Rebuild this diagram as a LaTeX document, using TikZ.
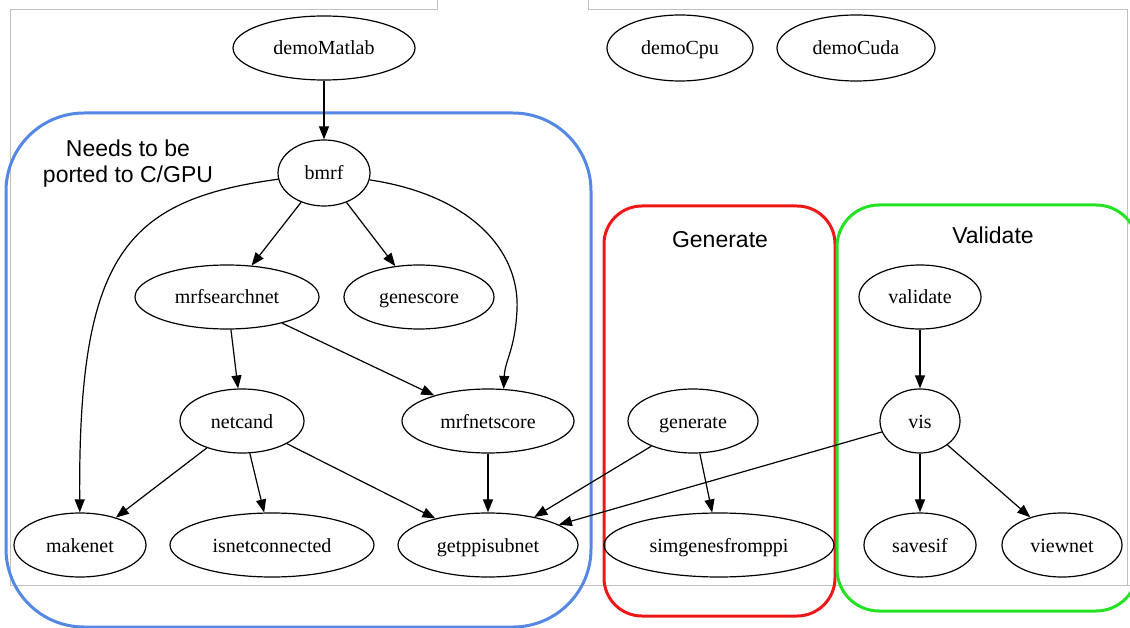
\documentclass[tikz,border=0pt]{standalone}
\usepackage{fontspec}
\setmainfont{Liberation Serif}
\newfontfamily\labelfont{Liberation Sans}
\usetikzlibrary{shapes.geometric,arrows.meta}

\definecolor{portblue}{RGB}{84,136,228}
\definecolor{genred}{RGB}{238,24,24}
\definecolor{valgreen}{RGB}{34,226,34}
\definecolor{panelgray}{RGB}{192,192,192}

\begin{document}
\begin{tikzpicture}[x=1pt,y=-1pt,
  fn/.style={ellipse, draw, line width=1.2pt, inner sep=0pt,
             text height=14pt, text depth=0pt,
             font=\fontsize{20}{22}\selectfont},
  call/.style={draw, line width=1.2pt, -{Triangle[length=13pt,width=10pt]}},
  cluster/.style={line width=3pt},
  clusterlabel/.style={font=\labelfont\fontsize{23}{26}\selectfont, align=center},
  panel/.style={draw=panelgray, line width=1pt}]

\useasboundingbox (0,0) rectangle (1130,628);

% window panel edges
\draw[panel] (437,0) -- (437,10) -- (10,10) -- (10,585) -- (1130,585);
\draw[panel] (588,0) -- (588,10) -- (1127,10) -- (1127,585);

% clusters
\draw[cluster, draw=portblue, rounded corners=78pt] (6,113) rectangle (591,627);
\draw[cluster, draw=genred, rounded corners=38pt] (604,206) rectangle (835,616);
\draw[cluster, draw=valgreen, rounded corners=42pt] (837,205) rectangle (1138,611);

\node[clusterlabel] (portlbl) at (128,164) {Needs to be\\ported to C/GPU};
\node[clusterlabel] (genlbl) at (720,240) {Generate};
\node[clusterlabel] (vallbl) at (993,235) {Validate};

% functions
\node[fn, minimum width=182pt, minimum height=64pt] (demoMatlab) at (324,48) {demoMatlab};
\node[fn, minimum width=146pt, minimum height=66pt] (demoCpu) at (680,48) {demoCpu};
\node[fn, minimum width=158pt, minimum height=66pt] (demoCuda) at (856,48) {demoCuda};

\node[fn, minimum width=92pt, minimum height=66pt] (bmrf) at (324,173) {bmrf};
\node[fn, minimum width=184pt, minimum height=64pt] (mrfsearchnet) at (227,297) {mrfsearchnet};
\node[fn, minimum width=150pt, minimum height=64pt] (genescore) at (419,297) {genescore};
\node[fn, minimum width=124pt, minimum height=64pt] (netcand) at (242,421) {netcand};
\node[fn, minimum width=172pt, minimum height=64pt] (mrfnetscore) at (488,421) {mrfnetscore};
\node[fn, minimum width=132pt, minimum height=64pt] (makenet) at (80,545) {makenet};
\node[fn, minimum width=204pt, minimum height=64pt] (isnetconnected) at (272,545) {isnetconnected};
\node[fn, minimum width=180pt, minimum height=64pt] (getppisubnet) at (488,545) {getppisubnet};

\node[fn, minimum width=130pt, minimum height=64pt] (generate) at (693,421) {generate};
\node[fn, minimum width=230pt, minimum height=64pt] (simgenesfromppi) at (719,545) {simgenesfromppi};

\node[fn, minimum width=122pt, minimum height=64pt] (validate) at (920,297) {validate};
\node[fn, minimum width=80pt, minimum height=64pt] (vis) at (920,421) {vis};
\node[fn, minimum width=112pt, minimum height=64pt] (savesif) at (920,545) {savesif};
\node[fn, minimum width=120pt, minimum height=64pt] (viewnet) at (1062,545) {viewnet};

% calls
\draw[call] (demoMatlab) -- (bmrf);
\draw[call] (bmrf) -- (mrfsearchnet);
\draw[call] (bmrf) -- (genescore);
\draw[call] (bmrf) .. controls (125,200) and (78,255) .. (makenet);
\draw[call] (bmrf) .. controls (470,195) and (520,250) .. (517,310)
                   .. controls (515,350) and (505,360) .. (mrfnetscore.64);
\draw[call] (mrfsearchnet) -- (netcand);
\draw[call] (mrfsearchnet) -- (mrfnetscore);
\draw[call] (netcand) -- (makenet);
\draw[call] (netcand) -- (isnetconnected);
\draw[call] (netcand) -- (getppisubnet);
\draw[call] (mrfnetscore) -- (getppisubnet);
\draw[call] (generate) -- (getppisubnet);
\draw[call] (generate) -- (simgenesfromppi);
\draw[call] (validate) -- (vis);
\draw[call] (vis) -- (getppisubnet);
\draw[call] (vis) -- (savesif);
\draw[call] (vis) -- (viewnet);

\end{tikzpicture}
\end{document}
